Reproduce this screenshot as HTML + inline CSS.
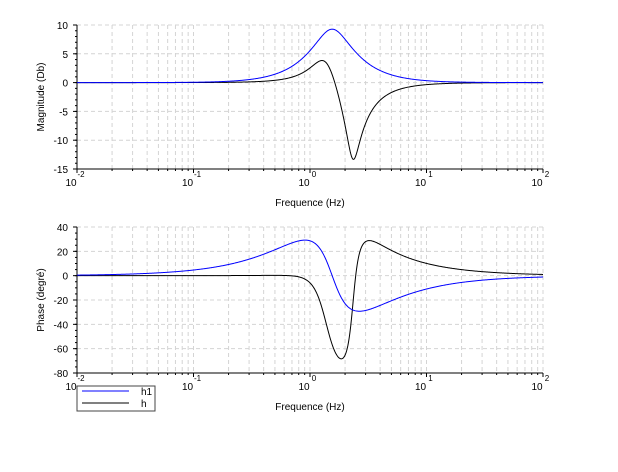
<!DOCTYPE html>
<html><head><meta charset="utf-8"><style>
body{margin:0;background:#fff}
svg{display:block;font-family:"Liberation Sans","DejaVu Sans",sans-serif}
</style></head><body>
<svg id="s" width="618" height="472" xmlns="http://www.w3.org/2000/svg">
<g id="g"></g>
<text transform="translate(44,97) rotate(-90)" font-size="10" text-anchor="middle">Magnitude (Db)</text>
<text transform="translate(44,300) rotate(-90)" font-size="10" text-anchor="middle">Phase (degré)</text>
<text x="310" y="206" font-size="10" text-anchor="middle">Frequence (Hz)</text>
<text x="310" y="410" font-size="10" text-anchor="middle">Frequence (Hz)</text>
<rect x="77" y="386" width="78" height="25" fill="#fff" stroke="#444"/>
<line x1="82" y1="391" x2="129" y2="391" stroke="#00f"/>
<line x1="82" y1="403" x2="129" y2="403" stroke="#000"/>
<text x="141" y="395" font-size="10">h1</text>
<text x="141" y="407" font-size="10">h</text>
</svg>
<script>
var g=document.getElementById('g'),ns='http://www.w3.org/2000/svg';
function el(t,a,txt){var e=document.createElementNS(ns,t);for(var k in a)e.setAttribute(k,a[k]);if(txt!==undefined)e.textContent=txt;g.appendChild(e);return e;}
var X0=77,DX=116.5,XR=543;
function xf(l){return X0+(l+2)*DX;}
function plot(top,bot,ymax,ymin,majors,minorStep){
 var yv=function(v){return top+(ymax-v)/(ymax-ymin)*(bot-top);};
 for(var d=-2;d<2;d++)for(var m=2;m<=9;m++){var x=xf(d+Math.log10(m));el('line',{x1:x,x2:x,y1:top,y2:bot,stroke:'#d4d4d4','stroke-dasharray':'4,3'});}
 for(var d=-1;d<=2;d++){var x=xf(d);el('line',{x1:x,x2:x,y1:top,y2:bot,stroke:'#d4d4d4','stroke-dasharray':'4,3'});}
 majors.forEach(function(v){if(v!=ymin)el('line',{x1:X0,x2:XR,y1:yv(v),y2:yv(v),stroke:'#d4d4d4','stroke-dasharray':'4,3'});
  el('text',{x:X0-9,y:yv(v)+4,'font-size':10,'text-anchor':'end'},v);
  el('line',{x1:X0-4,x2:X0,y1:yv(v),y2:yv(v),stroke:'#000'});});
 for(var v=ymin;v<=ymax;v+=minorStep)el('line',{x1:X0-2,x2:X0,y1:yv(v),y2:yv(v),stroke:'#000'});
 el('line',{x1:X0,x2:X0,y1:top,y2:bot,stroke:'#000'});
 el('line',{x1:X0,x2:XR,y1:bot,y2:bot,stroke:'#000'});
 for(var d=-2;d<2;d++)for(var m=1;m<=9;m++){var x=xf(d+Math.log10(m));el('line',{x1:x,x2:x,y1:bot,y2:bot+(m==1?4:2),stroke:'#000'});}
 el('line',{x1:xf(2),x2:xf(2),y1:bot,y2:bot+4,stroke:'#000'});
 for(var d=-2;d<=2;d++){var x=xf(d);el('text',{x:x-6,y:bot+17,'font-size':10,'text-anchor':'middle'},'10');el('text',{x:x+4,y:bot+8,'font-size':8,'text-anchor':'middle'},String(d));}
 return yv;
}
function div(a,b){var m=b[0]*b[0]+b[1]*b[1];return[(a[0]*b[0]+a[1]*b[1])/m,(a[1]*b[0]-a[0]*b[1])/m];}
function mul(a,b){return[a[0]*b[0]-a[1]*b[1],a[0]*b[1]+a[1]*b[0]];}
function sec(f,w,a,b){return div([w*w-f*f,2*a*w*f],[w*w-f*f,2*b*w*f]);}
function h1(f){return sec(f,1.55,0.96,0.33);}
function h(f){return mul(sec(f,1.38,0.6,0.26),sec(f,2.34,0.11,0.68));}
function curves(yv,fn,mode,col){var p='';for(var i=0;i<=800;i++){var l=-2+4*i/800,f=Math.pow(10,l),c=fn(f);var v=mode?20*Math.log10(Math.hypot(c[0],c[1])):Math.atan2(c[1],c[0])*180/Math.PI;p+=(i?'L':'M')+xf(l).toFixed(2)+','+yv(v).toFixed(2);}el('path',{d:p,fill:'none',stroke:col,'stroke-width':1});}
var y1=plot(25,169,10,-15,[10,5,0,-5,-10,-15],1);
curves(y1,h,1,'#000');curves(y1,h1,1,'#00f');
var y2=plot(227,373,40,-80,[40,20,0,-20,-40,-60,-80],5);
curves(y2,h,0,'#000');curves(y2,h1,0,'#00f');
</script>
</body></html>
